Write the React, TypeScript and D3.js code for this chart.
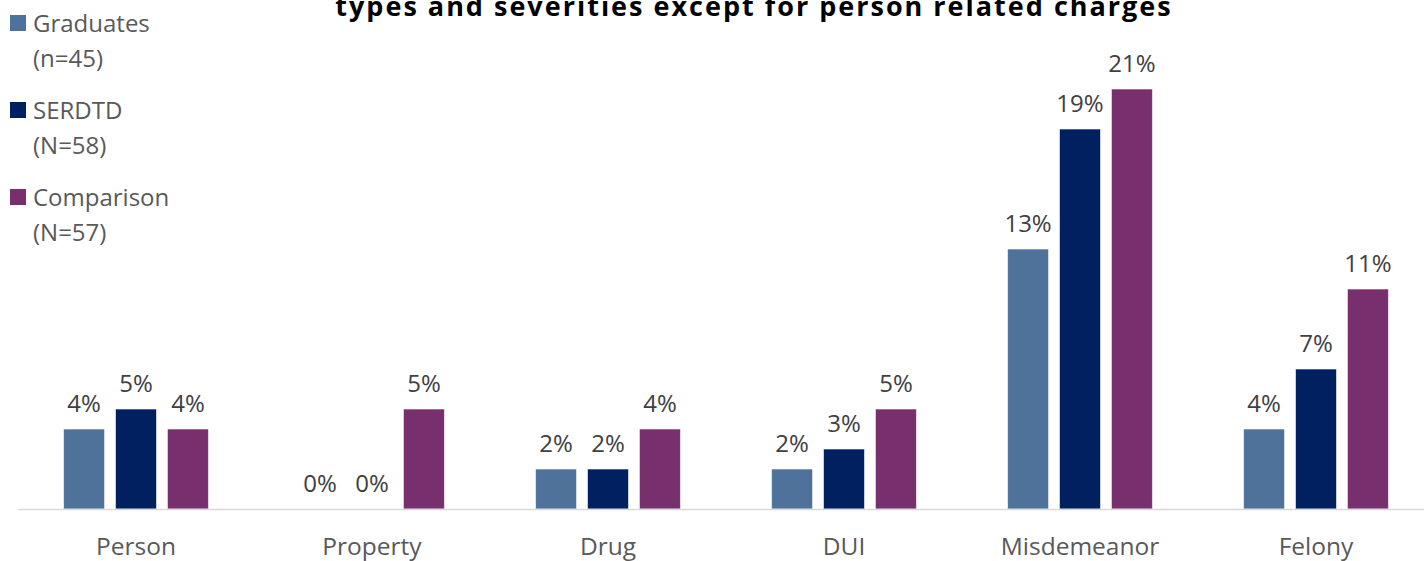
import React from "react";
import * as d3 from "d3";

const categories = ["Person", "Property", "Drug", "DUI", "Misdemeanor", "Felony"];
const seriesNames = ["Graduates", "SERDTD", "Comparison"];
const seriesSubLabels = ["(n=45)", "(N=58)", "(N=57)"];
const graduates = [4, 0, 2, 2, 13, 4];
const serdtd = [5, 0, 2, 3, 19, 7];
const comparison = [4, 5, 4, 5, 21, 11];
const colors = ["#4E729A", "#012060", "#772F6D"];
const titleLine = "types and severities except for person related charges";

const W = 1424;
const H = 561;
const FONT = "'Open Sans', 'Noto Sans', sans-serif";

export default function App() {
  const values = [graduates, serdtd, comparison];
  const baseY = 509;
  const x0 = d3
    .scaleBand<string>()
    .domain(categories)
    .range([18, 1434])
    .paddingInner(0.386)
    .paddingOuter(0.193);
  const x1 = d3
    .scaleBand<string>()
    .domain(seriesNames)
    .range([0, x0.bandwidth()])
    .paddingInner(0.21)
    .paddingOuter(0);
  const y = d3.scaleLinear().domain([0, 25]).range([baseY, 9]);

  return (
    <svg
      width={W}
      height={H}
      style={{ position: "absolute", left: 0, top: 0, background: "#fff" }}
      fontFamily={FONT}
    >
      <text
        x={754}
        y={16}
        textAnchor="middle"
        fontSize={27}
        fontWeight={700}
        letterSpacing={2}
        fill="#000"
      >
        {titleLine}
      </text>

      {categories.map((c, ci) =>
        seriesNames.map((s, si) => {
          const v = values[si][ci];
          const bx = (x0(c) ?? 0) + (x1(s) ?? 0);
          const bw = x1.bandwidth();
          return (
            <g key={c + s}>
              {v > 0 && (
                <rect
                  x={bx}
                  y={y(v)}
                  width={bw}
                  height={baseY - y(v)}
                  fill={colors[si]}
                  stroke="#ffffff"
                  strokeOpacity={0.6}
                  strokeWidth={1}
                />
              )}
              <text
                x={bx + bw / 2}
                y={y(v) - 17}
                textAnchor="middle"
                fontSize={24}
                fill="#404040"
              >
                {d3.format(".0f")(v)}%
              </text>
            </g>
          );
        })
      )}

      <line x1={18} x2={W} y1={baseY + 0.5} y2={baseY + 0.5} stroke="#d9d9d9" strokeWidth={1.5} />

      {categories.map((c) => (
        <text
          key={c}
          x={(x0(c) ?? 0) + x0.bandwidth() / 2}
          y={555}
          textAnchor="middle"
          fontSize={24.5}
          fill="#595959"
        >
          {c}
        </text>
      ))}

      {seriesNames.map((s, i) => {
        const top = 15 + i * 87;
        return (
          <g key={s}>
            <rect x={10} y={top} width={16} height={16} fill={colors[i]} />
            <text x={33} y={top + 17} fontSize={24} fill="#595959">
              {s}
            </text>
            <text x={33} y={top + 52} fontSize={24} fill="#595959">
              {seriesSubLabels[i]}
            </text>
          </g>
        );
      })}
    </svg>
  );
}
